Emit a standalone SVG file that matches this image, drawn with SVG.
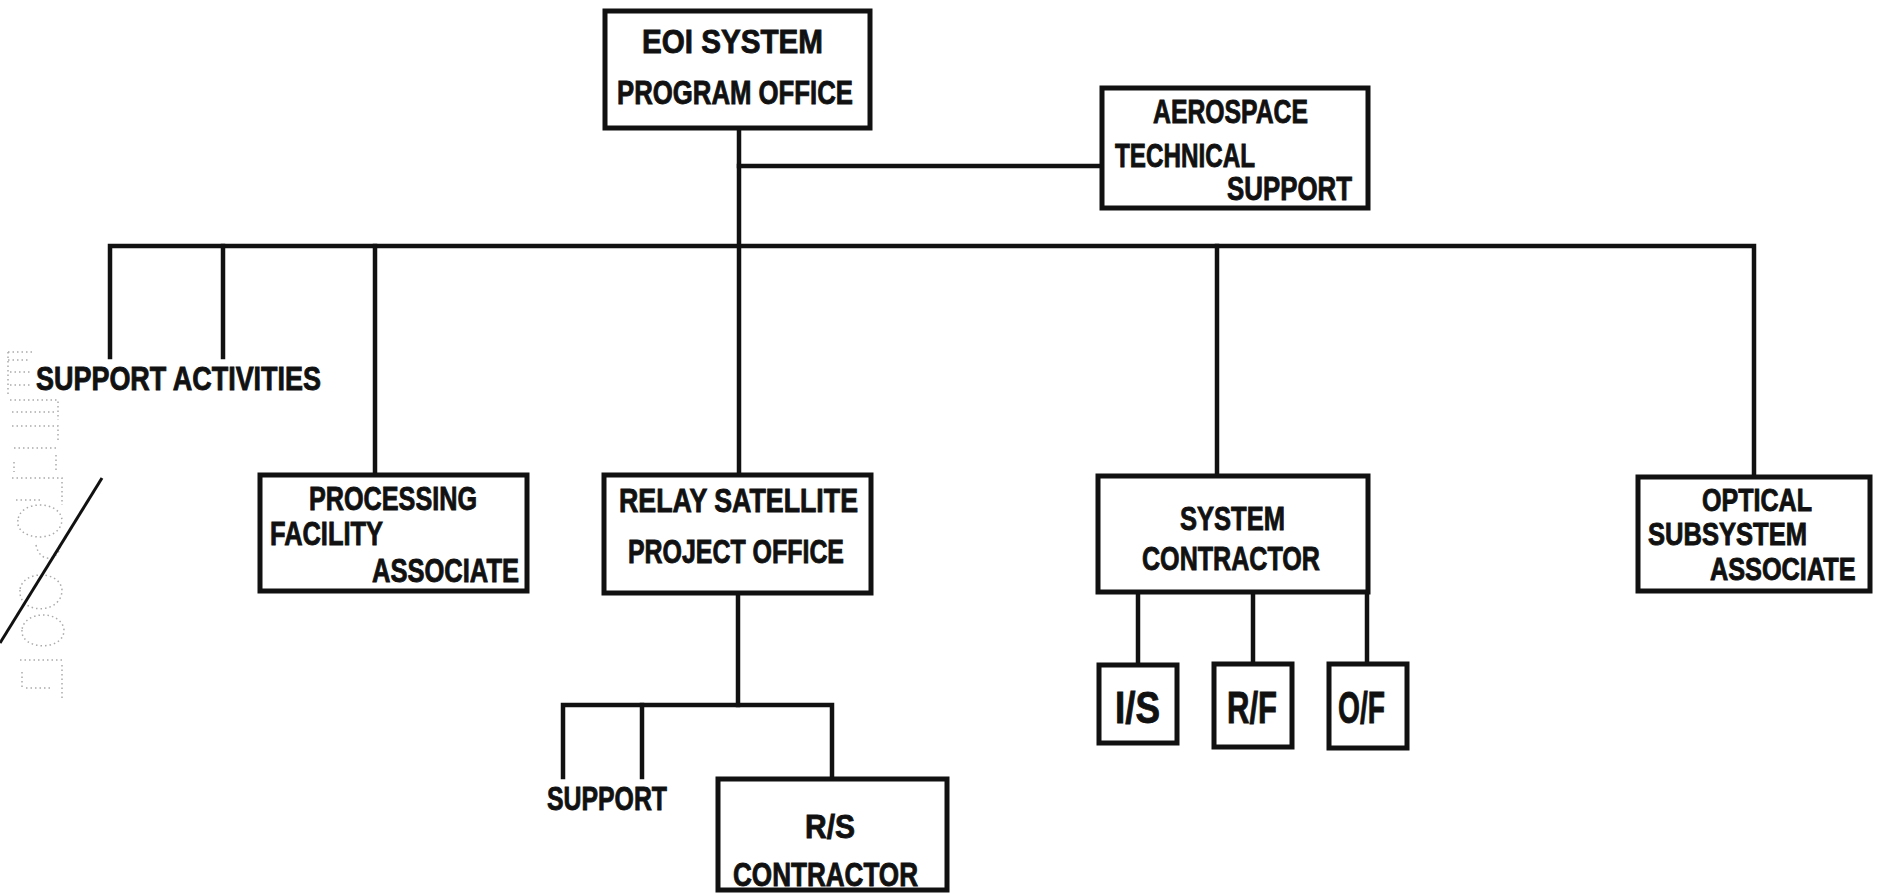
<svg xmlns="http://www.w3.org/2000/svg" width="1878" height="896" viewBox="0 0 1878 896">
<style>
.box{fill:#fff;stroke:#111;stroke-width:5}
.ln{fill:none;stroke:#111;stroke-width:4.5;stroke-linecap:square}
.t{font-family:"Liberation Sans","Arial",sans-serif;font-weight:bold;font-size:34px;fill:#111;stroke:#111;stroke-width:0.9}
.sm{font-size:32px}
.big{font-size:44px}
.stamp{fill:none;stroke:#aaa;stroke-width:1.5;stroke-dasharray:1.5 3}
</style>
<rect width="1878" height="896" fill="#fff"/>

<g id="connectors">
<path class="ln" d="M739,128 V474"/>
<path class="ln" d="M739,166 H1102"/>
<path class="ln" d="M110,357 V246 H1754 V476"/>
<path class="ln" d="M223,246 V357"/>
<path class="ln" d="M375,246 V474"/>
<path class="ln" d="M1217,246 V475"/>
<path class="ln" d="M738,593 V705"/>
<path class="ln" d="M563,777 V705 H832 V778"/>
<path class="ln" d="M642,705 V777"/>
<path class="ln" d="M1138,592 V665"/>
<path class="ln" d="M1253,592 V663"/>
<path class="ln" d="M1367,592 V663"/>
</g>

<g id="eoi-spo">
<rect class="box" x="605" y="11" width="265" height="117"/>
<text class="t" x="642" y="53" textLength="181" lengthAdjust="spacingAndGlyphs">EOI  SYSTEM</text>
<text class="t" x="617" y="104" textLength="236" lengthAdjust="spacingAndGlyphs">PROGRAM OFFICE</text>
</g>

<g id="aerospace">
<rect class="box" x="1102" y="88" width="266" height="120"/>
<text class="t" x="1153" y="123" textLength="155" lengthAdjust="spacingAndGlyphs">AEROSPACE</text>
<text class="t" x="1115" y="167" textLength="140" lengthAdjust="spacingAndGlyphs">TECHNICAL</text>
<text class="t" x="1227" y="200" textLength="125" lengthAdjust="spacingAndGlyphs">SUPPORT</text>
</g>

<g id="support-activities">
<text class="t" x="36" y="390" textLength="285" lengthAdjust="spacingAndGlyphs">SUPPORT ACTIVITIES</text>
</g>

<g id="processing">
<rect class="box" x="260" y="475" width="267" height="116"/>
<text class="t" x="309" y="510" textLength="168" lengthAdjust="spacingAndGlyphs">PROCESSING</text>
<text class="t" x="270" y="545" textLength="113" lengthAdjust="spacingAndGlyphs">FACILITY</text>
<text class="t" x="372" y="582" textLength="147" lengthAdjust="spacingAndGlyphs">ASSOCIATE</text>
</g>

<g id="relay">
<rect class="box" x="604" y="475" width="267" height="118"/>
<text class="t" x="619" y="512" textLength="239" lengthAdjust="spacingAndGlyphs">RELAY SATELLITE</text>
<text class="t" x="628" y="563" textLength="216" lengthAdjust="spacingAndGlyphs">PROJECT OFFICE</text>
</g>

<g id="system-contractor">
<rect class="box" x="1098" y="476" width="270" height="116"/>
<text class="t" x="1180" y="530" textLength="105" lengthAdjust="spacingAndGlyphs">SYSTEM</text>
<text class="t" x="1142" y="570" textLength="178" lengthAdjust="spacingAndGlyphs">CONTRACTOR</text>
</g>

<g id="optical">
<rect class="box" x="1638" y="477" width="232" height="114"/>
<text class="t sm" x="1702" y="511" textLength="110" lengthAdjust="spacingAndGlyphs">OPTICAL</text>
<text class="t sm" x="1648" y="545" textLength="159" lengthAdjust="spacingAndGlyphs">SUBSYSTEM</text>
<text class="t sm" transform="translate(1710,580) scale(0.79,1)" x="0" y="0">ASSOCIATE</text>
</g>

<g id="is">
<rect class="box" x="1099" y="665" width="78" height="78"/>
<text class="t big" x="1115" y="723" textLength="45" lengthAdjust="spacingAndGlyphs">I/S</text>
</g>
<g id="rf">
<rect class="box" x="1214" y="664" width="78" height="83"/>
<text class="t big" x="1227" y="723" textLength="50" lengthAdjust="spacingAndGlyphs">R/F</text>
</g>
<g id="of">
<rect class="box" x="1329" y="664" width="78" height="84"/>
<text class="t big" x="1338" y="723" textLength="47" lengthAdjust="spacingAndGlyphs">O/F</text>
</g>

<g id="support">
<text class="t" x="547" y="810" textLength="120" lengthAdjust="spacingAndGlyphs">SUPPORT</text>
</g>

<g id="rs-contractor">
<rect class="box" x="718" y="779" width="229" height="111"/>
<text class="t" x="805" y="838" textLength="50" lengthAdjust="spacingAndGlyphs">R/S</text>
<text class="t" x="733" y="886" textLength="185" lengthAdjust="spacingAndGlyphs">CONTRACTOR</text>
</g>

<g id="stamp">
<path class="stamp" d="M8,352 H34 M8,360 H30 M8,352 V395 M10,372 H30 M10,385 H32"/>
<path class="stamp" d="M10,400 H58 V420 M12,412 H56 M12,426 H58 V440 M14,448 H56 M14,462 V472 M56,455 V470"/>
<path class="stamp" d="M12,478 H62 V505 M16,500 H40 M18,520 C14,540 60,545 62,520 C60,500 20,500 18,520"/>
<path class="stamp" d="M36,545 C40,565 60,560 60,545"/>
<path class="stamp" d="M20,590 C18,615 62,615 62,590 C60,570 22,570 20,590 M22,630 C20,650 64,652 64,630 C62,610 24,610 22,630"/>
<path class="stamp" d="M20,660 H62 M22,672 V690 M62,665 V700 M26,688 H50"/>
</g>
<line x1="102" y1="478" x2="0" y2="643" stroke="#111" stroke-width="3"/>
</svg>
